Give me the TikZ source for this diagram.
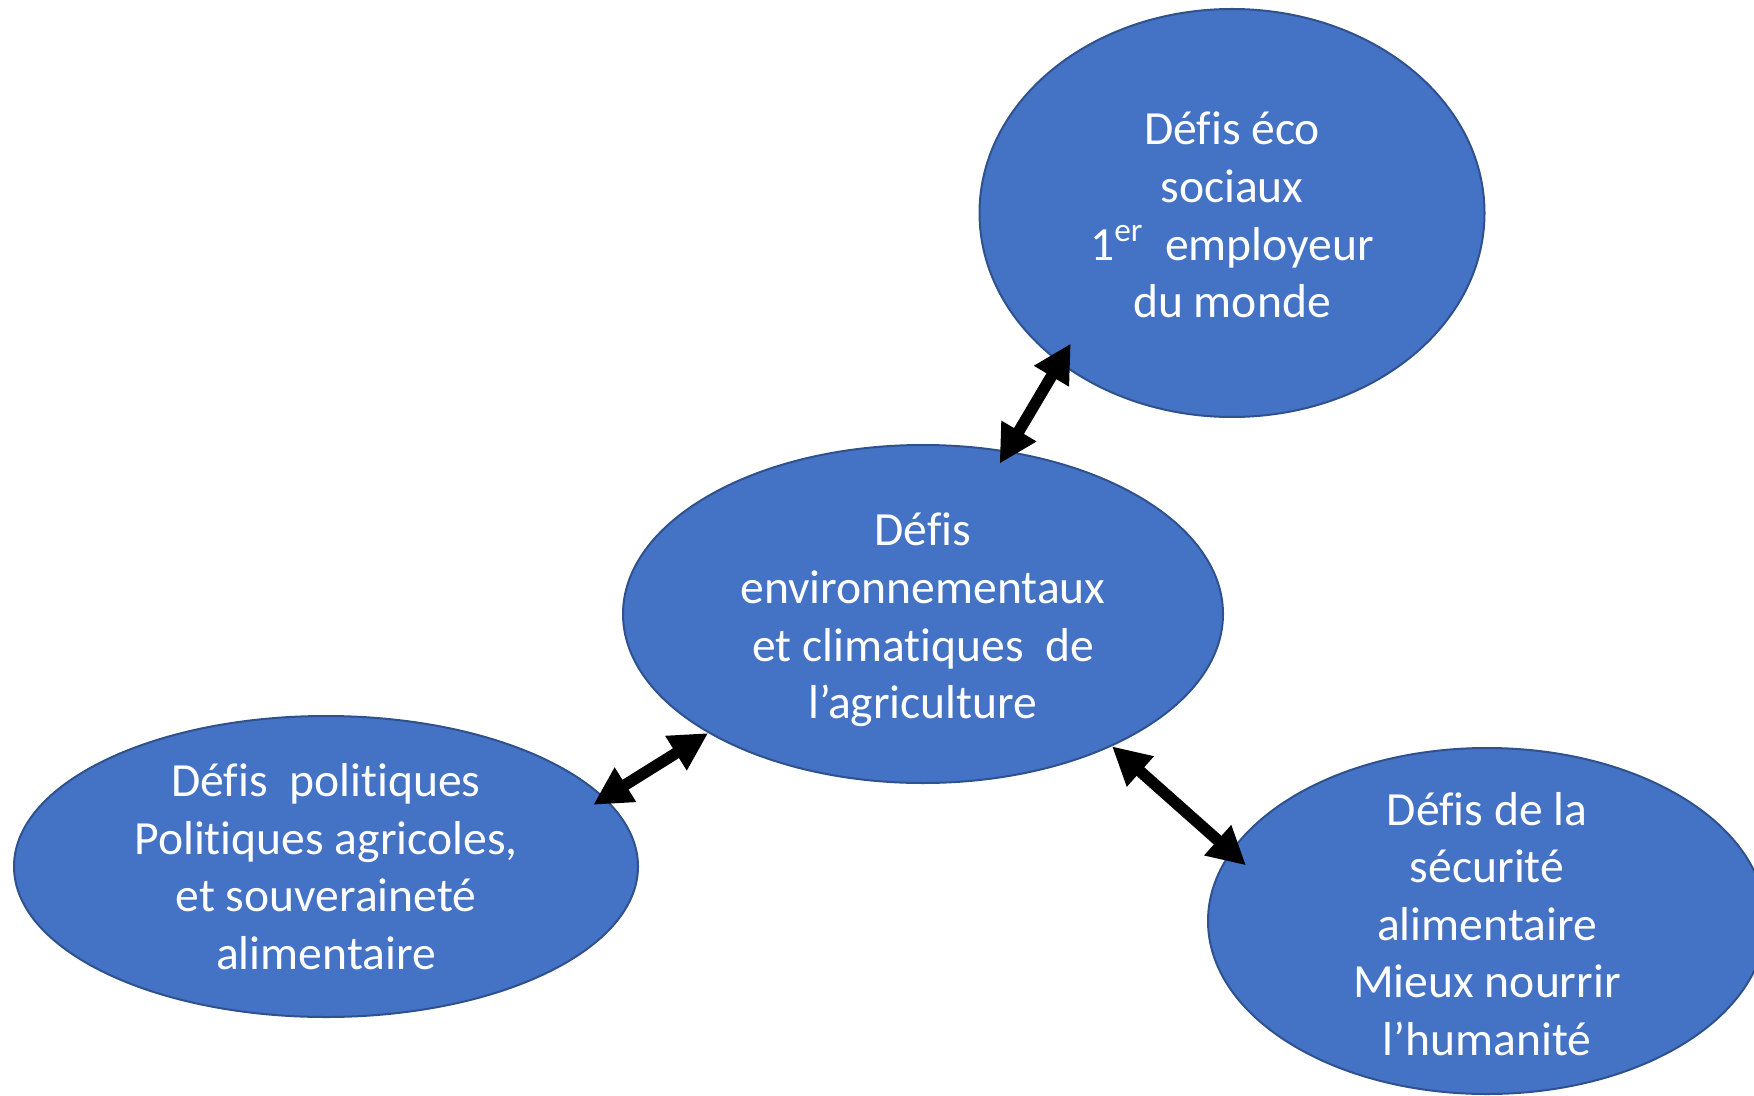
\documentclass[tikz,border=0pt]{standalone}
\usepackage{fontspec}
\setmainfont{Carlito}[Ligatures=NoCommon]
\usetikzlibrary{arrows.meta,calc,shapes.geometric}

\definecolor{blobfill}{RGB}{68,114,196}
\definecolor{blobline}{RGB}{47,82,143}

\tikzset{every picture/.style={line width=0.75pt}}
\tikzset{
  blob/.style={ellipse, draw=blobline, fill=blobfill, line width=1pt, inner sep=0pt},
  blobtext/.style={text=white, align=center, inner sep=0pt, font=\fontsize{23.8}{28.8}\selectfont},
  dblarrow/.style={line width=5.75pt, {Triangle[length=19pt,width=19pt]}-{Triangle[length=19pt,width=19pt]}}
}

\begin{document}
\begin{tikzpicture}[x=0.5pt,y=0.5pt,yscale=-1]
\clip (0,0) rectangle (1754,1096);

%Ellipse: eco sociaux
\node [blob, minimum width=252.5pt, minimum height=204pt] (eco) at (1232,213) {};
%Ellipse: environnement
\node [blob, minimum width=300pt, minimum height=169pt] (ctr) at (923,614) {};
%Ellipse: politiques
\node [blob, minimum width=312pt, minimum height=150.5pt] (pol) at (326,866.5) {};
%Ellipse: securite
\node [blob, minimum width=279pt, minimum height=173pt] (sec) at (1487,921) {};

%Double arrows
\draw [dblarrow] ($(ctr.center)!.92!(ctr.63)$) -- ($(eco.center)!.90!(eco.219)$);
\draw [dblarrow] ($(pol.center)!.946!(pol.13)$) -- (ctr.209);
\draw [dblarrow] (ctr.325) -- ($(sec.center)!.918!(sec.167)$);

% Text Node
\node [blobtext, yshift=-1pt] (ecotxt) at (eco) {Défis éco\\sociaux\\1\textsuperscript{er}\ \ employeur\\du monde};
% Text Node
\node [blobtext, yshift=-3pt] (ctrtxt) at (ctr) {Défis\\environnementaux\\et climatiques\ \ de\\l’agriculture};
% Text Node
\node [blobtext] (poltxt) at (pol) {Défis\ \ politiques\\Politiques agricoles,\\et souveraineté\\alimentaire};
% Text Node
\node [blobtext, yshift=-1.5pt] (sectxt) at (sec) {Défis de la\\sécurité\\alimentaire\\Mieux nourrir\\l’humanité};

\end{tikzpicture}
\end{document}
